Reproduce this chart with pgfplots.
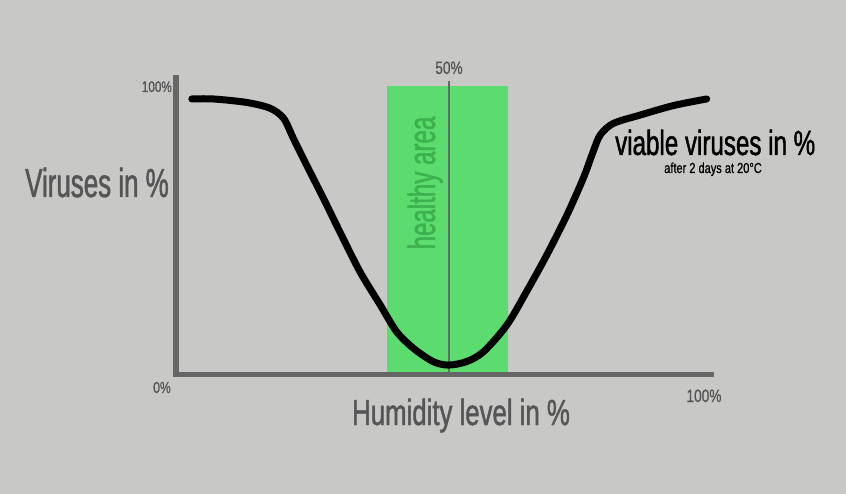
\documentclass[border=0pt]{standalone}
\usepackage{pgfplots}
\pgfplotsset{compat=1.18}
\usepackage{fontspec}
\setmainfont{Liberation Sans}
\newfontfamily\condA[FakeStretch=0.64, FakeBold=1.2]{Liberation Sans}
\newfontfamily\condH[FakeStretch=0.71, FakeBold=1.2]{Liberation Sans}
\newfontfamily\condV[FakeStretch=0.69, FakeBold=1.2]{Liberation Sans}
\newfontfamily\condB[FakeStretch=0.76, FakeBold=0.8]{Liberation Sans}

\definecolor{bg}{HTML}{C8C8C6}
\definecolor{hgreen}{HTML}{5CDC6E}
\definecolor{htext}{HTML}{3DB04F}
\definecolor{axgray}{HTML}{666666}
\definecolor{labgray}{HTML}{555555}
\definecolor{midline}{HTML}{626C62}

\begin{document}
\begin{tikzpicture}
  \fill[bg] (0pt,0pt) rectangle (846pt,-494pt);
  \begin{axis}[
      at={(176pt,-374pt)}, anchor=south west,
      scale only axis, width=546pt, height=288pt,
      xmin=0, xmax=100, ymin=0, ymax=100,
      hide axis, clip=false
    ]
    % healthy humidity band
    \addplot[fill=hgreen, draw=none] coordinates {
      (38.6,0)(38.6,100)(60.8,100)(60.8,0)
    } -- cycle;
    \draw[midline, line width=2pt] (axis cs:50,0) -- (axis cs:50,101.7);
    % axis lines
    \draw[axgray, line width=5.5pt] (axis cs:0,-0.8) -- (axis cs:0,103.8);
    \draw[axgray, line width=5pt] (axis cs:-0.5,0) -- (axis cs:98.5,0);
    % viable viruses after 2 days
    \addplot[black, line width=7pt, line cap=round, smooth] coordinates {
      (2.9,95.5)(6.8,95.5)(12.9,94.3)(17.2,92.3)(19.7,88.8)(21.5,81.8)
      (23.9,72.6)(27.0,61.0)(30.0,49.4)(33.7,35.5)(37.4,24.0)(40.4,14.7)
      (43.5,8.9)(47.1,4.3)(49.9,3.1)(53.2,4.3)(56.3,7.7)(60.6,17.0)
      (64.2,28.6)(67.9,41.3)(71.6,55.2)(74.6,68.0)(76.4,77.2)(77.7,83.0)
      (80.1,87.0)(85.0,89.9)(91.1,93.2)(97.2,95.5)
    };
  \end{axis}
  % texts
  \node[anchor=base west, inner sep=0pt, text=labgray, font=\condA\fontsize{40.5}{40.5}\selectfont]
    at (25pt,-197pt) {Viruses in \%};
  \node[anchor=base west, inner sep=0pt, text=labgray, font=\condH\fontsize{36.3}{36.3}\selectfont]
    at (352pt,-425pt) {Humidity level in \%};
  \node[anchor=base west, inner sep=0pt, text=black, font=\condV\fontsize{35}{35}\selectfont]
    at (615pt,-155pt) {viable viruses in \%};
  \node[anchor=base, inner sep=0pt, text=black, font=\condB\fontsize{14.5}{14.5}\selectfont]
    at (713pt,-173pt) {after 2 days at 20°C};
  \node[anchor=base, inner sep=0pt, rotate=90, text=htext, font=\condA\fontsize{37.7}{37.7}\selectfont]
    at (435pt,-183pt) {healthy area};
  \node[anchor=base east, inner sep=0pt, text=labgray, font=\condB\fontsize{15.4}{15.4}\selectfont]
    at (172pt,-92pt) {100\%};
  \node[anchor=base, inner sep=0pt, text=labgray, font=\condB\fontsize{18}{18}\selectfont]
    at (449pt,-74pt) {50\%};
  \node[anchor=base, inner sep=0pt, text=labgray, font=\condB\fontsize{16}{16}\selectfont]
    at (162pt,-393pt) {0\%};
  \node[anchor=base, inner sep=0pt, text=labgray, font=\condB\fontsize{18}{18}\selectfont]
    at (704pt,-402pt) {100\%};
\end{tikzpicture}
\end{document}
